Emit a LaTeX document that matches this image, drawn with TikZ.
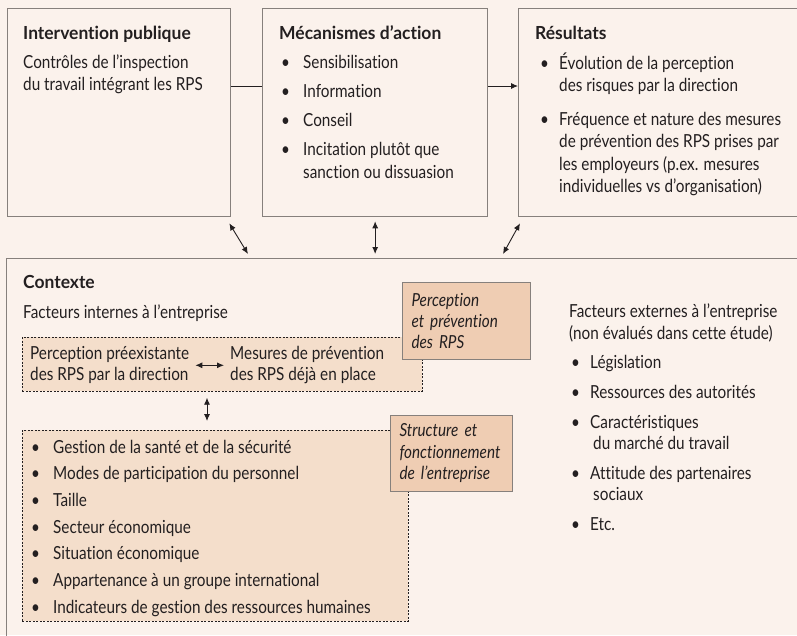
\documentclass[tikz,border=0pt]{standalone}
\usepackage{fontspec}
\setmainfont{Lato}[FakeStretch=0.85, Ligatures=NoCommon]
\newfontfamily\headfont{Lato}[FakeStretch=0.97, Ligatures=NoCommon]
\usetikzlibrary{arrows.meta,calc,positioning}
\definecolor{bgcream}{HTML}{FBF2EC}
\definecolor{peach}{HTML}{F4DECB}
\definecolor{peachdark}{HTML}{EFCDB3}
\definecolor{linegray}{HTML}{86807C}
\definecolor{inkgray}{HTML}{231F20}
\newcommand{\bul}[1]{\makebox[#1][l]{\textbullet}}
\newcommand{\stack}[1]{\begin{tabular}[t]{@{}l@{}}#1\end{tabular}}

\tikzset{
  box/.style={draw=linegray, line width=1.3pt, anchor=north west, inner sep=0pt},
  dotbox/.style={draw=inkgray, fill=peach, dash pattern=on 2pt off 1.5pt, line width=0.7pt, anchor=north west, inner sep=0pt},
  tagbox/.style={draw=linegray, fill=peachdark, line width=1pt, anchor=north west, inner sep=0pt, align=left, text=inkgray, font=\fontsize{18}{21.5}\selectfont\itshape},
  txt/.style={anchor=base west, inner sep=0pt, align=left, text=inkgray, font=\fontsize{18}{22.5}\selectfont},
  hd/.style={txt, font=\fontsize{18}{22.5}\selectfont\headfont\bfseries},
  link/.style={draw=inkgray, line width=0.9pt},
  twoway/.style={link, {Latex[length=7pt,width=6pt]}-{Latex[length=7pt,width=6pt]}}
}

\begin{document}
\begin{tikzpicture}[x=1pt,y=-1pt]
  \useasboundingbox (0,0) rectangle (797,635);
  \fill[bgcream] (0,0) rectangle (797,635);
  \clip (0,0) rectangle (797,635);

  \node[box, minimum width=223pt, minimum height=208pt] (interv) at (7,8) {};
  \node[box, minimum width=225pt, minimum height=208pt] (meca) at (262,8) {};
  \node[box, minimum width=300pt, minimum height=208pt] (result) at (518,8) {};

  \node[hd] (intervhd) at (23,39) {Intervention publique};
  \node[txt] (intervtx) at (23,68) {\stack{Contrôles de l’inspection\\du travail intégrant les RPS}};

  \node[hd] (mecahd) at (279,39) {Mécanismes d’action};
  \node[txt, font=\fontsize{18}{23}\selectfont] (mecatx) at (281,68) {\begin{tabular}[t]{@{}l@{}l@{}}
    \bul{22pt} & Sensibilisation\\[6pt]
    \bul{22pt} & Information\\[6pt]
    \bul{22pt} & Conseil\\[6pt]
    \bul{22pt} & Incitation plutôt que\\
    & sanction ou dissuasion
  \end{tabular}};

  \node[hd] (resulthd) at (535,39) {Résultats};
  \node[txt, font=\fontsize{18}{22.5}\selectfont] (resulttx) at (540,69) {\begin{tabular}[t]{@{}l@{}l@{}}
    \bul{19pt} & Évolution de la perception\\
    & des risques par la direction\\[11pt]
    \bul{19pt} & Fréquence et nature des mesures\\
    & de prévention des RPS prises par\\
    & les employeurs (p.ex. mesures\\
    & individuelles vs d’organisation)
  \end{tabular}};

  \coordinate (row) at (0,86);
  \draw[link] (interv.east |- row) -- (meca.west |- row);
  \draw[link, -{Latex[length=7pt,width=6pt]}] (meca.east |- row) -- (result.west |- row);

  \node[box, minimum width=830pt, minimum height=420pt] (ctx) at (6,258) {};
  \draw[twoway] ($(interv.south east)+(-2,6)$) -- ($(ctx.north west)+(242,-4)$);
  \draw[twoway] ($(meca.south)+(0,4)$) -- ($(meca.south |- ctx.north)+(0,-4)$);
  \draw[twoway] ($(result.south west)+(2,6)$) -- ($(ctx.north west)+(497,-4)$);

  \node[hd] (ctxhd) at (23,288) {Contexte};
  \node[txt] (internes) at (23,318) {Facteurs internes à l’entreprise};

  \node[dotbox, minimum width=400pt, minimum height=54pt] (percep) at (22,337) {};
  \node[txt, font=\fontsize{18}{21}\selectfont] (pptx) at (30,359) {\stack{Perception préexistante\\des RPS par la direction}};
  \node[txt, font=\fontsize{18}{21}\selectfont] (mptx) at (230,359) {\stack{Mesures de prévention\\des RPS déjà en place}};
  \draw[twoway, shorten <=6pt, shorten >=6pt] (pptx.east) -- (mptx.west);
  \node[tagbox, minimum width=128pt, minimum height=77pt, text width=110pt] (lblperc) at (402,282) {Perception\\et prévention\\des RPS};

  \node[dotbox, minimum width=386pt, minimum height=191pt] (struct) at (22,430) {};
  \draw[twoway] ($(percep.south west)+(185,6)$) -- ($(struct.north west)+(185,-9)$);
  \node[txt, font=\fontsize{18}{26.7}\selectfont] (structtx) at (31,453) {\begin{tabular}[t]{@{}l@{}l@{}}
    \bul{22pt} & Gestion de la santé et de la sécurité\\
    \bul{22pt} & Modes de participation du personnel\\
    \bul{22pt} & Taille\\
    \bul{22pt} & Secteur économique\\
    \bul{22pt} & Situation économique\\
    \bul{22pt} & Appartenance à un groupe international\\
    \bul{22pt} & Indicateurs de gestion des ressources humaines
  \end{tabular}};
  \node[tagbox, minimum width=122pt, minimum height=76pt, text width=104pt] (lblstruct) at (390,415) {Structure et\\fonctionnement\\de l’entreprise};

  \node[txt] (externes) at (569,317) {\stack{Facteurs externes à l’entreprise\\(non évalués dans cette étude)}};
  \node[txt, font=\fontsize{18}{21.5}\selectfont] (externtx) at (571,368) {\begin{tabular}[t]{@{}l@{}l@{}}
    \bul{19pt} & Législation\\[8.5pt]
    \bul{19pt} & Ressources des autorités\\[8.5pt]
    \bul{19pt} & Caractéristiques\\
    & \hspace{3pt}du marché du travail\\[8pt]
    \bul{19pt} & Attitude des partenaires\\
    & \hspace{3pt}sociaux\\[8pt]
    \bul{19pt} & Etc.
  \end{tabular}};
\end{tikzpicture}
\end{document}
